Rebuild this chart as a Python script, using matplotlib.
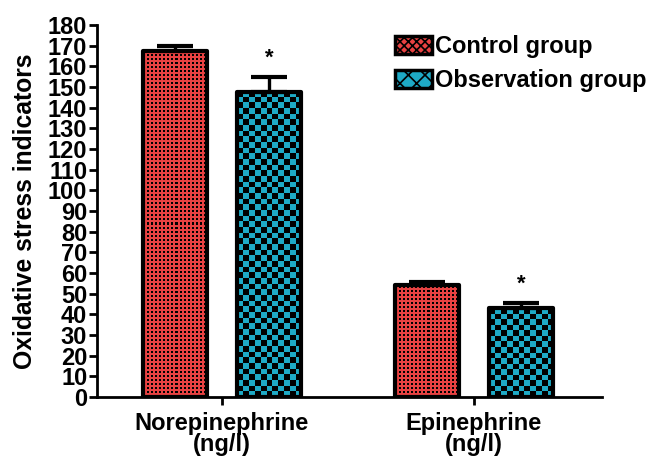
import matplotlib
matplotlib.use("Agg")
import matplotlib.pyplot as plt
import numpy as np
from matplotlib.colors import ListedColormap
from matplotlib.patches import Patch

categories = ["Norepinephrine\n(ng/l)", "Epinephrine\n(ng/l)"]
groups = ["Control group", "Observation group"]
control = [167.5, 54.2]
control_err = [2.3, 1.4]
observation = [147.6, 43.0]
observation_err = [7.2, 2.5]

red = "#e84242"
cyan = "#1eaac6"

plt.rcParams['font.family'] = ['Liberation Sans', 'DejaVu Sans']
plt.rcParams['font.weight'] = 'bold'
plt.rcParams['hatch.linewidth'] = 1.2

fig = plt.figure(figsize=(6.54, 4.58), dpi=100)
ax = fig.add_axes([97 / 654, 61 / 458, 505 / 654, 372 / 458])
ax.set_xlim(-0.496, 1.508)
ax.set_ylim(0, 180)

x = np.arange(len(categories))
off = 0.187
w = 0.255


def fill_pattern(bar, color, kind):
    x0, h, bw = bar.get_x(), bar.get_height(), bar.get_width()
    p0 = ax.transData.transform((x0, 0))
    p1 = ax.transData.transform((x0 + bw, h))
    if kind == 'fine':
        # small black dots on red, 4 px period
        nx = int(round(p1[0] - p0[0]))
        ny = int(round(p1[1] - p0[1]))
        i, j = np.indices((ny, nx))
        grid = (((i % 4) < 2) & ((j % 4) < 2)).astype(int)
    else:
        nx = max(1, int(round((p1[0] - p0[0]) / 5.7)))
        ny = max(1, int(round((p1[1] - p0[1]) / 5.7)))
        grid = np.indices((ny, nx)).sum(axis=0) % 2
    im = ax.imshow(grid, cmap=ListedColormap([color, "black"]), vmin=0, vmax=1,
                   extent=(x0, x0 + bw, 0, h), aspect='auto', interpolation='nearest',
                   origin='lower', zorder=2)
    im.set_clip_path(bar)


b1 = ax.bar(x - off, control, w, facecolor='none', edgecolor='black', linewidth=3,
            joinstyle='round', zorder=3)
b2 = ax.bar(x + off, observation, w, facecolor='none', edgecolor='black', linewidth=3,
            joinstyle='round', zorder=3)
for b in b1:
    fill_pattern(b, red, 'fine')
for b in b2:
    fill_pattern(b, cyan, 'coarse')

ax.errorbar(x - off, control, yerr=[np.zeros(2), control_err], fmt='none', ecolor='black',
            elinewidth=2.4, capsize=13, capthick=3, zorder=4)
ax.errorbar(x + off, observation, yerr=[np.zeros(2), observation_err], fmt='none', ecolor='black',
            elinewidth=2.4, capsize=13, capthick=3, zorder=4)

for xi, v, e in zip(x + off, observation, observation_err):
    ax.text(xi, v + e + 4.0, "*", ha='center', va='bottom', fontsize=16, fontweight='bold')

ax.set_xlim(-0.496, 1.508)
ax.set_ylim(0, 180)
ax.set_yticks(np.arange(0, 181, 10))
ax.set_xticks(x)
ax.set_xticklabels(categories, fontsize=17, fontweight='bold', linespacing=0.88)
ax.tick_params(axis='y', labelsize=17, width=2, length=6, pad=1)
ax.tick_params(axis='x', width=2, length=6, pad=5)
for lab in ax.get_yticklabels():
    lab.set_fontweight('bold')
ax.spines['top'].set_visible(False)
ax.spines['right'].set_visible(False)
ax.spines['left'].set_linewidth(2)
ax.spines['bottom'].set_linewidth(2)
ax.set_ylabel("Oxidative stress indicators", fontsize=17.8, fontweight='bold', labelpad=8)

handles = [Patch(facecolor=red, edgecolor='black', hatch='xxxx', linewidth=2.5),
           Patch(facecolor=cyan, edgecolor='black', hatch='xx', linewidth=2.5)]
ax.legend(handles, groups, loc='upper left', bbox_to_anchor=(0.59, 0.973), frameon=False,
          handlelength=1.55, handleheight=0.8, handletextpad=0.15, labelspacing=0.46,
          borderpad=0, borderaxespad=0, prop={'weight': 'bold', 'size': 17})

fig.savefig("out.png", dpi=100)
